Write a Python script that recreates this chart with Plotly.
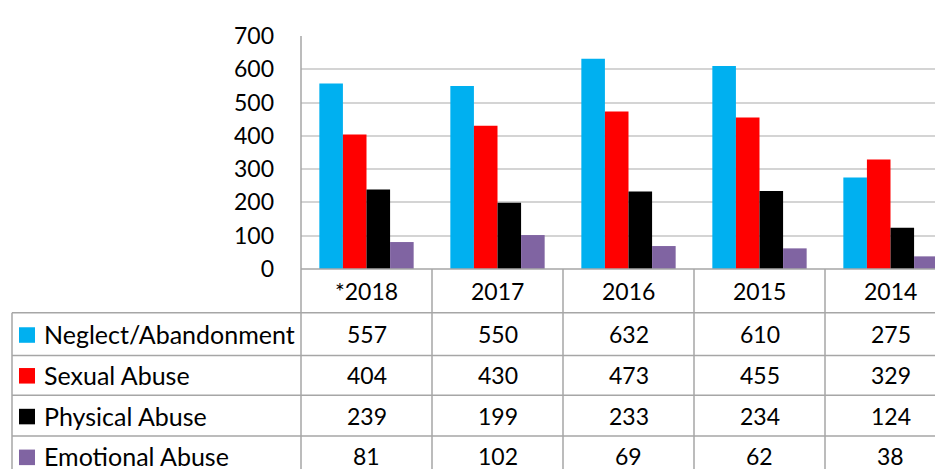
import plotly.graph_objects as go

years = ["*2018", "2017", "2016", "2015", "2014"]
series_names = ["Neglect/Abandonment", "Sexual Abuse", "Physical Abuse", "Emotional Abuse"]
neglect = [557, 550, 632, 610, 275]
sexual = [404, 430, 473, 455, 329]
physical = [239, 199, 233, 234, 124]
emotional = [81, 102, 69, 62, 38]
y_ticks = [0, 100, 200, 300, 400, 500, 600, 700]

colors = ["#00B0F0", "#FF0000", "#000000", "#8064A2"]
series_values = [neglect, sexual, physical, emotional]

XOFF, YOFF = 8, 0  # observed page offsets of the figure in the screenshot
W, H = 943 - XOFF, 474
L, T = 301 - XOFF, 28 - YOFF
FONT = "Lato"
FS = 25      # row label text
FSN = 23     # numbers / years
GRID = "#d4d4d4"
TABLE = "#a6a6a6"


def px(p):
    return (p - XOFF - L) / (W - L)


def py(p):
    return (H - (p - YOFF)) / (H - T)


fig = go.Figure()
xs = list(range(len(years)))
for name, vals, col in zip(series_names, series_values, colors):
    fig.add_trace(go.Bar(x=xs, y=vals, name=name, marker=dict(color=col, line=dict(width=0))))

col_w = 131
fig.update_layout(
    width=W, height=H,
    margin=dict(l=L, r=0, t=T, b=0),
    paper_bgcolor="white", plot_bgcolor="white",
    barmode="group", bargap=0.28, bargroupgap=0,
    showlegend=False,
    font=dict(family=FONT, size=FS, color="#000000"),
    xaxis=dict(range=[-0.5, -0.5 + (W - L) / col_w], showticklabels=False, showgrid=False,
               zeroline=False, showline=False, ticks="", fixedrange=True),
    yaxis=dict(domain=[py(268), 1], range=[0, 700], tickvals=y_ticks, showgrid=True,
               gridcolor=GRID, gridwidth=1.5, zeroline=False, showline=False, ticks="",
               ticklabelstandoff=26, tickfont=dict(family=FONT, size=FSN, color="#000000"),
               fixedrange=True),
)

shapes = []
# y axis line
shapes.append(dict(type="line", xref="paper", yref="paper", x0=0, x1=0, y0=0, y1=1,
                   line=dict(color=TABLE, width=1.5)))
# zero / table top line
shapes.append(dict(type="line", xref="paper", yref="paper", x0=0, x1=1, y0=py(268), y1=py(268),
                   line=dict(color=TABLE, width=1.5)))
# table row lines
for yy in [313, 357, 398, 440]:
    shapes.append(dict(type="line", xref="paper", yref="paper", x0=px(12), x1=1, y0=py(yy), y1=py(yy),
                       line=dict(color=TABLE, width=1.5)))
# left border
shapes.append(dict(type="line", xref="paper", yref="paper", x0=px(12), x1=px(12), y0=0, y1=py(313),
                   line=dict(color=TABLE, width=1.5)))
# column separators
for i in range(len(years) - 1):
    shapes.append(dict(type="line", xref="x", yref="paper", x0=i + 0.5, x1=i + 0.5, y0=0, y1=py(268),
                       line=dict(color=TABLE, width=1.5)))

row_centers = [335, 377, 419, 461]
annotations = []
for i, yr in enumerate(years):
    annotations.append(dict(x=i, y=py(291), xref="x", yref="paper", text=yr, showarrow=False,
                            xanchor="center", yanchor="middle", font=dict(family=FONT, size=FSN)))
for r, (name, vals, col) in enumerate(zip(series_names, series_values, colors)):
    yc = row_centers[r]
    shapes.append(dict(type="rect", xref="paper", yref="paper", x0=px(19), x1=px(35),
                       y0=py(yc - 7), y1=py(yc + 9), fillcolor=col, line=dict(width=0)))
    annotations.append(dict(x=px(42), y=py(yc), xref="paper", yref="paper", text=name, showarrow=False,
                            xanchor="left", yanchor="middle", font=dict(family=FONT, size=FS)))
    for i, v in enumerate(vals):
        annotations.append(dict(x=i, y=py(yc), xref="x", yref="paper", text=str(v), showarrow=False,
                                xanchor="center", yanchor="middle", font=dict(family=FONT, size=FSN)))

fig.update_layout(shapes=shapes, annotations=annotations)
fig.write_html("out.html")
